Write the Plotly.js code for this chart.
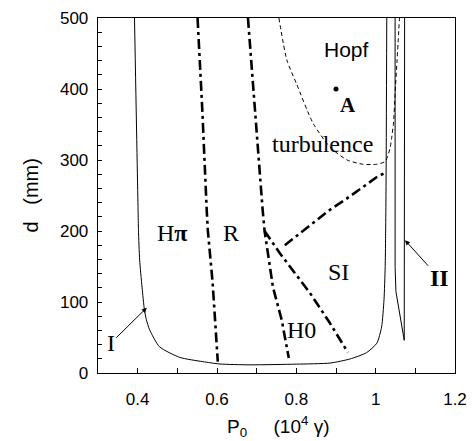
<!DOCTYPE html>
<html>
<head>
<meta charset="utf-8">
<script src="https://cdn.plot.ly/plotly-3.0.1.min.js"></script>
<style>html,body{margin:0;padding:0;background:#fff;}#chart{width:473px;height:441px;}</style>
</head>
<body>
<div id="chart"></div>
<script>
// Boundary I (thin solid)
const curveIX = [0.392, 0.401, 0.402, 0.405, 0.411, 0.417, 0.422, 0.430, 0.455, 0.506, 0.564, 0.607, 0.683, 0.800, 0.885, 0.935, 0.977, 1.003, 1.015, 1.021, 1.024, 1.026, 1.028];
const curveIY = [500, 230, 201, 159, 121, 89, 75, 61, 37, 22, 16, 12.7, 11.5, 12.5, 14, 19.7, 28.6, 42, 65, 103, 150, 250, 500];
// Boundary II (thin solid, V shape)
const curveIIX = [1.049, 1.049, 1.051, 1.058, 1.066, 1.072, 1.073];
const curveIIY = [500, 150, 115, 90, 65, 46, 500];
// Turbulence boundary (dashed)
const turbX = [0.756, 0.776, 0.800, 0.842, 0.885, 0.928, 0.968, 1.003, 1.024, 1.036, 1.040, 1.045, 1.049, 1.054, 1.060];
const turbY = [500, 441, 408, 352, 318, 300, 294, 294, 298, 316, 330, 352, 394, 441, 500];
// Hπ / R boundary (dash-dot)
const hpiRX = [0.551, 0.563, 0.574, 0.577, 0.589, 0.602];
const hpiRY = [500, 370, 230, 200, 127, 16];
// R / H0 boundary (dash-dot)
const rH0X = [0.678, 0.693, 0.715, 0.720, 0.741, 0.763, 0.781];
const rH0Y = [500, 385, 230, 200, 121, 75, 21];
// H0 / SI boundary (dash-dot)
const h0SIX = [0.720, 0.758, 0.834, 0.885, 0.930];
const h0SIY = [200, 169, 113, 70, 29];
// SI / turbulence boundary (dash-dot)
const siTurbX = [0.771, 0.885, 0.923, 1.003, 1.024];
const siTurbY = [180, 230, 244, 276, 282];
// Point A
const pointAX = [0.900];
const pointAY = [400];
// Ticks
const xTickVals = [0.4, 0.6, 0.8, 1.0, 1.2];
const xTickText = ['0.4', '0.6', '0.8', '1', '1.2'];
const yTickVals = [0, 100, 200, 300, 400, 500];
const yTickText = ['0', '100', '200', '300', '400', '500'];
// Region labels
const labelText = ['Hopf', 'turbulence', 'H<b>π</b>', 'R', 'SI', 'H0', '<b>A</b>'];
const labelX = [0.926, 0.865, 0.489, 0.635, 0.907, 0.812, 0.930];
const labelY = [456, 322, 197, 197, 142, 61, 378];

const serif = 'Liberation Serif, Times New Roman, serif';
const sans = 'Liberation Sans, Arial, Helvetica, sans-serif';

const thin = {color: '#000', width: 1};
const dd = {color: '#000', width: 2.6, dash: '10px,4px,3px,4px'};

const traces = [
  {x: curveIX, y: curveIY, mode: 'lines', line: {color: '#000', width: 1, shape: 'spline', smoothing: 0.6}},
  {x: curveIIX, y: curveIIY, mode: 'lines', line: thin},
  {x: turbX, y: turbY, mode: 'lines', line: {color: '#000', width: 1, dash: '4px,3px', shape: 'spline', smoothing: 0.6}},
  {x: hpiRX, y: hpiRY, mode: 'lines', line: dd},
  {x: rH0X, y: rH0Y, mode: 'lines', line: dd},
  {x: h0SIX, y: h0SIY, mode: 'lines', line: dd},
  {x: siTurbX, y: siTurbY, mode: 'lines', line: dd},
  {x: pointAX, y: pointAY, mode: 'markers', marker: {color: '#000', size: 5}}
];

const annotations = labelText.map((t, i) => ({
  x: labelX[i], y: labelY[i], xref: 'x', yref: 'y', text: t, showarrow: false,
  xanchor: 'center', yanchor: 'middle',
  font: {family: (t === 'Hopf') ? sans : serif, size: (t === 'Hopf') ? 21 : ((t === '<b>A</b>') ? 21 : 24), color: '#000'}
}));

annotations.push({
  x: 0.423, y: 92, xref: 'x', yref: 'y', ax: 0.332, ay: 42, axref: 'x', ayref: 'y',
  text: 'I', showarrow: true, arrowhead: 2, arrowsize: 1, arrowwidth: 1, arrowcolor: '#000',
  font: {family: serif, size: 24, color: '#000'}
});
annotations.push({
  x: 1.074, y: 187, xref: 'x', yref: 'y', ax: 1.160, ay: 134, axref: 'x', ayref: 'y',
  text: '<b>II</b>', showarrow: true, arrowhead: 2, arrowsize: 1, arrowwidth: 1, arrowcolor: '#000',
  font: {family: serif, size: 24, color: '#000'}
});
annotations.push({
  x: 0.505, y: 0, xref: 'paper', yref: 'paper', yshift: -53, showarrow: false,
  xanchor: 'center', yanchor: 'middle',
  text: 'P<sub>0</sub>\u00a0\u00a0\u00a0\u00a0\u00a0(10<sup>4</sup>\u00a0γ)',
  font: {family: sans, size: 19, color: '#000'}
});
annotations.push({
  x: 0, y: 0.5, xref: 'paper', yref: 'paper', xshift: -68, showarrow: false,
  xanchor: 'center', yanchor: 'middle', textangle: -90,
  text: 'd\u00a0\u00a0\u00a0(mm)',
  font: {family: sans, size: 20, color: '#000'}
});

const layout = {
  width: 473, height: 441,
  margin: {l: 98, r: 18, t: 18, b: 68},
  paper_bgcolor: '#fff', plot_bgcolor: '#fff',
  showlegend: false,
  xaxis: {
    range: [0.3, 1.2], tickvals: xTickVals, ticktext: xTickText,
    ticks: 'inside', ticklen: 5, tickcolor: '#000', tickwidth: 1, ticklabelstandoff: 10,
    minor: {dtick: 0.1, tick0: 0, ticks: 'inside', ticklen: 5, tickcolor: '#000', tickwidth: 1},
    showgrid: false, zeroline: false, showline: true, linecolor: '#000', linewidth: 1.3, mirror: true,
    tickfont: {family: sans, size: 17, color: '#000'}
  },
  yaxis: {
    range: [0, 500], tickvals: yTickVals, ticktext: yTickText,
    ticks: 'inside', ticklen: 4, tickcolor: '#000', tickwidth: 1, ticklabelstandoff: 5,
    minor: {dtick: 20, tick0: 0, ticks: 'inside', ticklen: 4, tickcolor: '#000', tickwidth: 1},
    showgrid: false, zeroline: false, showline: true, linecolor: '#000', linewidth: 1.3, mirror: true,
    tickfont: {family: sans, size: 17, color: '#000'}
  },
  annotations: annotations
};

Plotly.newPlot('chart', traces, layout, {displayModeBar: false, staticPlot: true});
</script>
</body>
</html>
